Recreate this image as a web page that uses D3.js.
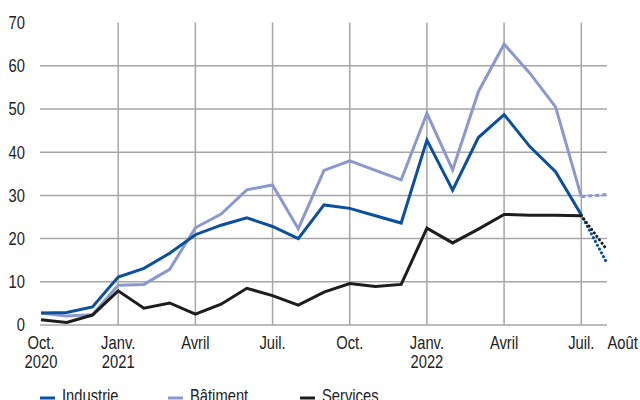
<!DOCTYPE html>
<html><head><meta charset="utf-8">
<script src="https://cdn.jsdelivr.net/npm/d3@7"></script>
<style>
html,body{margin:0;padding:0;background:#fff;overflow:hidden;}
svg text{font-family:"Liberation Sans",Arial,sans-serif;fill:#222;}
</style></head>
<body>
<svg id="c" width="640" height="400"></svg>
<script>
const months = ["2020-10","2020-11","2020-12","2021-01","2021-02","2021-03","2021-04","2021-05","2021-06","2021-07","2021-08","2021-09","2021-10","2021-11","2021-12","2022-01","2022-02","2022-03","2022-04","2022-05","2022-06","2022-07","2022-08"];
const industrie = [2.8,2.9,4.2,11.1,13.1,16.6,20.9,23.1,24.8,22.8,20.0,27.8,27.0,25.3,23.6,42.8,31.2,43.4,48.7,41.3,35.5,25.5];
const batiment  = [2.8,2.1,2.4,9.2,9.4,12.9,22.5,25.7,31.3,32.4,22.3,35.8,38.0,35.8,33.6,49.0,35.9,54.0,65.0,58.3,50.5,29.7];
const services  = [1.2,0.6,2.3,7.9,3.9,5.1,2.5,4.8,8.5,6.8,4.6,7.6,9.6,8.9,9.4,22.4,19.0,22.2,25.6,25.4,25.4,25.3];
const forecastAug = {industrie:14.3, batiment:30.2, services:17.4};
const yTicks = [0,10,20,30,40,50,60,70];
const xTickIdx = [0,3,6,9,12,15,18,21,22];
const xTickLabels = [["Oct.","2020"],["Janv.","2021"],["Avril"],["Juil."],["Oct."],["Janv.","2022"],["Avril"],["Juil."],["Août"]];
const seriesNames = ["Industrie","Bâtiment","Services"];
const colors = ["#0b4f9f","#8a98cf","#1d1d1b"];

const SX = 0.82, FS = 18;
const svg = d3.select("#c");
const x = d3.scaleLinear().domain([0, months.length-1]).range([41, 607]);
const y = d3.scaleLinear().domain([0,70]).range([325, 22.6]);

function label(parent, tx, ty, lines, anchor, dy){
  const g = parent.append("g").attr("transform",`translate(${tx},${ty}) scale(${SX},1)`);
  const t = g.append("text").attr("font-size",FS).attr("text-anchor",anchor||"start");
  lines.forEach((s,k)=>{
    t.append("tspan").attr("x",0).attr("y",k*19.5).attr("dy",dy||0).text(s);
  });
  return t;
}

// horizontal gridlines
svg.append("g").selectAll("line").data(yTicks.filter(v=>v<70)).enter().append("line")
  .attr("x1",40).attr("x2",607).attr("y1",d=>y(d)).attr("y2",d=>y(d))
  .attr("stroke","#a6a6a6").attr("stroke-width",1.5);
// vertical gridlines
svg.append("g").selectAll("line").data(xTickIdx.filter(i=>i>0 && i<22)).enter().append("line")
  .attr("x1",d=>x(d)).attr("x2",d=>x(d)).attr("y1",y(70)).attr("y2",y(0))
  .attr("stroke","#a6a6a6").attr("stroke-width",1.5);

// y labels
const yg = svg.append("g");
yTicks.forEach(v=>label(yg, 25, y(v), [String(v)], "end", "0.36em"));

// x labels
const xg = svg.append("g");
xTickIdx.forEach((d,i)=>{
  if(i===8) label(xg, x(d)+0.5, 349, xTickLabels[i], "start");
  else label(xg, x(d), 349, xTickLabels[i], "middle");
});

const line = d3.line().x((d,i)=>x(i)).y(d=>y(d));
const data = [industrie,batiment,services];
const fc = [forecastAug.industrie, forecastAug.batiment, forecastAug.services];
const dashes = ["0.1,4.2","4,3","0.1,4.2"];
const caps = ["round","butt","round"];
[1,0,2].forEach(k=>{
  svg.append("path").datum(data[k]).attr("d",line)
    .attr("fill","none").attr("stroke",colors[k]).attr("stroke-width",3)
    .attr("stroke-linejoin","miter");
  const last = data[k].length-1;
  svg.append("line")
    .attr("x1",x(last)).attr("y1",y(data[k][last]))
    .attr("x2",x(last+1)).attr("y2",y(fc[k]))
    .attr("stroke",colors[k]).attr("stroke-width",3)
    .attr("stroke-dasharray",dashes[k]).attr("stroke-linecap",caps[k]);
});

// legend
const legX = [40,168,300];
const lg = svg.append("g");
seriesNames.forEach((n,k)=>{
  lg.append("line").attr("x1",legX[k]).attr("x2",legX[k]+15)
    .attr("y1",398).attr("y2",398).attr("stroke",colors[k]).attr("stroke-width",3);
  label(lg, legX[k]+22, 402, [n], "start");
});
</script>
</body></html>
